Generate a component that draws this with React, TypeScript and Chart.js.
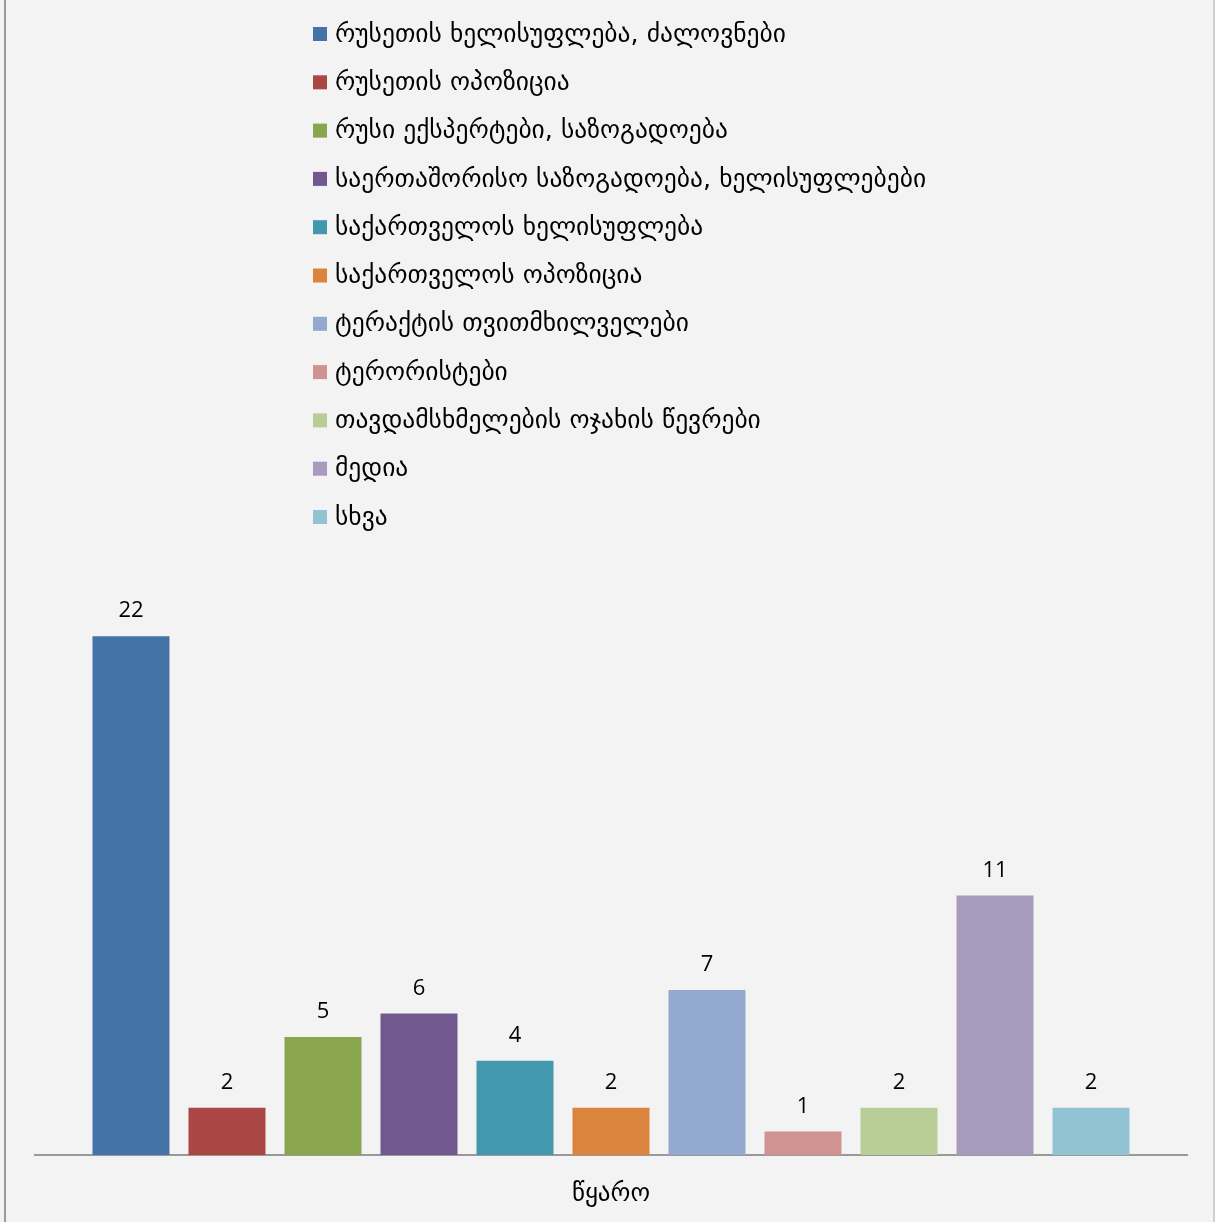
import React, { useEffect, useRef } from "react";
import { Chart, registerables } from "chart.js";

Chart.register(...registerables);

const categories = ["წყარო"];
const seriesNames = [
  "რუსეთის ხელისუფლება, ძალოვნები",
  "რუსეთის ოპოზიცია",
  "რუსი ექსპერტები, საზოგადოება",
  "საერთაშორისო საზოგადოება, ხელისუფლებები",
  "საქართველოს ხელისუფლება",
  "საქართველოს ოპოზიცია",
  "ტერაქტის თვითმხილველები",
  "ტერორისტები",
  "თავდამსხმელების ოჯახის წევრები",
  "მედია",
  "სხვა",
];
const seriesValues = [22, 2, 5, 6, 4, 2, 7, 1, 2, 11, 2];
const seriesColors = [
  "#4572A7",
  "#AA4643",
  "#89A54E",
  "#71588F",
  "#4198AF",
  "#DB843D",
  "#93A9CF",
  "#D19392",
  "#B9CD96",
  "#A99BBD",
  "#92C3D5",
];

const LEGEND_FONT = "25.5px 'DejaVu Sans', sans-serif";
const VALUE_FONT = "22px 'Open Sans', sans-serif";

const customLegend = {
  id: "customLegend",
  afterDraw(chart: any) {
    const ctx = chart.ctx;
    ctx.save();
    ctx.font = LEGEND_FONT;
    ctx.textBaseline = "middle";
    ctx.textAlign = "left";
    chart.data.datasets.forEach((ds: any, i: number) => {
      const cy = 34 + i * 48.3;
      ctx.fillStyle = ds.backgroundColor;
      ctx.fillRect(313, cy - 7, 14, 14);
      ctx.fillStyle = "#000";
      ctx.fillText(ds.label, 335, cy + 1);
    });
    ctx.restore();
  },
};

const valueLabels = {
  id: "valueLabels",
  afterDatasetsDraw(chart: any) {
    const ctx = chart.ctx;
    ctx.save();
    ctx.font = VALUE_FONT;
    ctx.fillStyle = "#000";
    ctx.textAlign = "center";
    ctx.textBaseline = "bottom";
    chart.data.datasets.forEach((ds: any, i: number) => {
      const meta = chart.getDatasetMeta(i);
      meta.data.forEach((bar: any, j: number) => {
        ctx.fillText(String(ds.data[j]), bar.x, bar.y - 14);
      });
    });
    ctx.restore();
  },
};

export default function App() {
  const ref = useRef<HTMLCanvasElement>(null);
  useEffect(() => {
    if (!ref.current) return;
    const chart = new Chart(ref.current, {
      type: "bar",
      data: {
        labels: categories,
        datasets: seriesNames.map((name, i) => ({
          label: name,
          data: [seriesValues[i]],
          backgroundColor: seriesColors[i],
          borderWidth: 0,
          categoryPercentage: 0.9167,
          barPercentage: 0.802,
        })),
      },
      options: {
        animation: false,
        responsive: false,
        maintainAspectRatio: false,
        layout: { padding: { left: 35, right: 28, top: 589, bottom: 0 } },
        plugins: {
          legend: { display: false },
          tooltip: { enabled: false },
          title: { display: false },
        },
        scales: {
          x: {
            grid: { display: false, drawTicks: false },
            border: { display: true, color: "#999999", width: 2 },
            ticks: {
              color: "#000",
              padding: 24,
              font: { family: "'DejaVu Sans', sans-serif", size: 25, lineHeight: 1.2 },
            },
            afterFit: (scale: any) => {
              scale.height = 67;
            },
          },
          y: {
            display: false,
            min: 0,
            max: 24,
          },
        },
      },
      plugins: [customLegend, valueLabels],
    });
    return () => chart.destroy();
  }, []);
  return (
    <div
      style={{
        position: "absolute",
        left: 0,
        top: 0,
        width: 1215,
        height: 1222,
        background: "#f3f3f3",
        overflow: "hidden",
      }}
    >
      <canvas ref={ref} width={1215} height={1222} style={{ display: "block" }} />
      <div style={{ position: "absolute", left: 4, top: 0, width: 2, height: 1222, background: "#9a9a9a" }} />
      <div style={{ position: "absolute", left: 1213, top: 0, width: 2, height: 1222, background: "#d0d0d0" }} />
    </div>
  );
}
